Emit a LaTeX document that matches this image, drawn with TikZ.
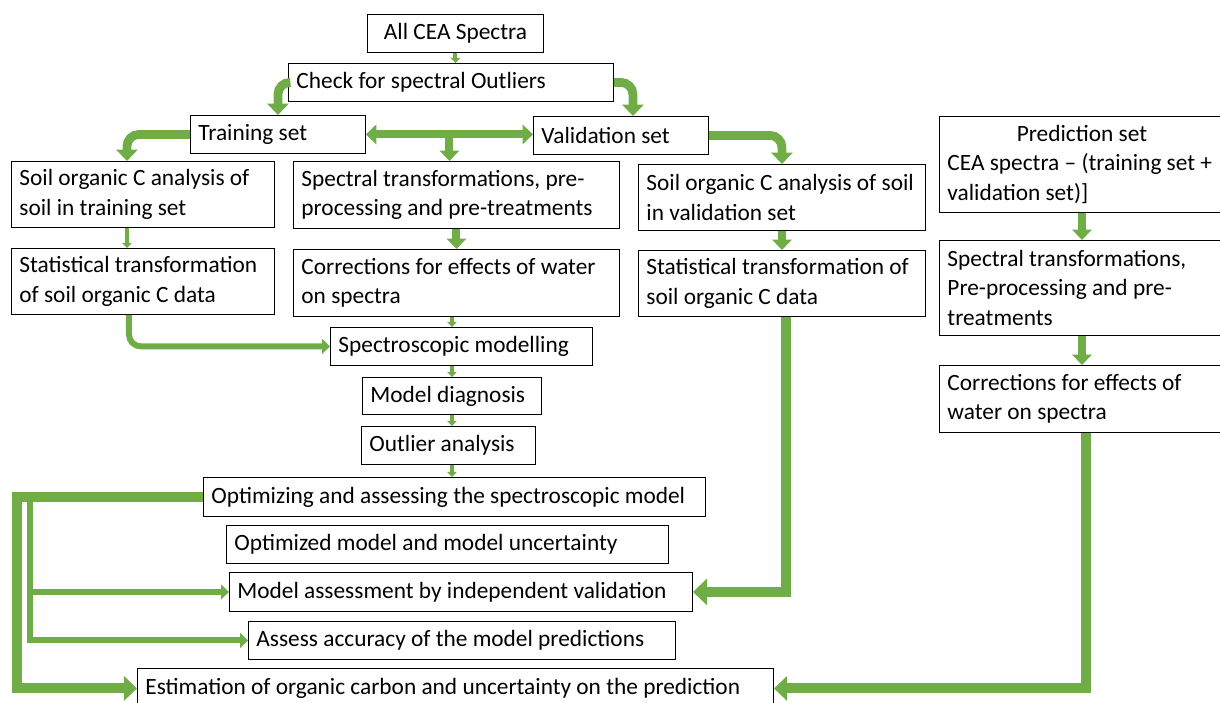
\documentclass[tikz,border=0pt]{standalone}
\usepackage{fontspec}
\setmainfont{Carlito}
\usepackage{tikz}
\usetikzlibrary{positioning, arrows.meta, calc}
\definecolor{leaf-green}{HTML}{70AD47}

\begin{document}
\begin{tikzpicture}[x=0.025cm, y=-0.025cm,
    box/.style={draw, line width=0.6pt, anchor=north west, align=flush left,
                inner xsep=0.2cm, inner ysep=0pt, text width=#1,
                font=\fontsize{16.6}{21}\selectfont},
    flow/.style={draw=leaf-green, line width=#1,
                 -{Triangle[width=0pt 2.4, length=0pt 1.3]}},
    flow/.default=0.2cm,
    twoway/.style={draw=leaf-green, line width=0.2cm,
                   {Triangle[width=0pt 2.4, length=0pt 1.3]}-{Triangle[width=0pt 2.4, length=0pt 1.3]}},
]
    \path[fill=white, use as bounding box] (0,0) rectangle (1220,702);

    % Top of the chart
    \node[box=4cm, minimum height=0.95cm, align=flush center] (allcea) at (367,14) {All CEA Spectra};
    \node[box=7.725cm, minimum height=0.95cm] (check) at (288,63) {Check for spectral Outliers};
    \node[box=3.975cm, minimum height=0.95cm] (train) at (190,115) {Training set};
    \node[box=3.975cm, minimum height=0.95cm] (valid) at (533,116) {Validation set};

    % Training branch
    \node[box=6.175cm, minimum height=1.65cm] (soilT) at (11,161)
        {Soil organic C analysis of\\soil in training set};
    \node[box=6.175cm, minimum height=1.65cm] (statT) at (11,248)
        {Statistical transformation\\of soil organic C data};

    % Spectra branch
    \node[box=7.75cm, minimum height=1.675cm] (spec) at (293,161)
        {Spectral transformations, pre-\\processing and pre-treatments};
    \node[box=7.75cm, minimum height=1.675cm] (corrM) at (293,249)
        {Corrections for effects of water\\on spectra};

    % Validation branch
    \node[box=6.775cm, minimum height=1.65cm] (soilV) at (638,164)
        {Soil organic C analysis of soil\\in validation set};
    \node[box=6.775cm, minimum height=1.65cm] (statV) at (638,250)
        {Statistical transformation of\\soil organic C data};

    % Prediction branch
    \node[box=6.725cm, minimum height=2.4cm] (pred) at (939,116)
        {\makebox[\linewidth]{Prediction set}\\CEA spectra – (training set +\\validation set)]};
    \node[box=6.725cm, minimum height=2.375cm] (specR) at (939,240)
        {Spectral transformations,\\Pre-processing and pre-\\treatments};
    \node[box=6.725cm, minimum height=1.675cm] (corrR) at (939,365)
        {Corrections for effects of\\water on spectra};

    % Modelling column
    \node[box=6.15cm, minimum height=0.95cm] (model) at (330,327) {Spectroscopic modelling};
    \node[box=4.075cm, minimum height=0.925cm] (diag) at (362,377) {Model diagnosis};
    \node[box=3.95cm, minimum height=0.95cm] (outl) at (361,426) {Outlier analysis};
    \node[box=12.15cm, minimum height=0.975cm] (optim) at (203,477)
        {Optimizing and assessing the spectroscopic model};
    \node[box=10.65cm, minimum height=0.95cm] (optmod) at (226,525)
        {Optimized model and model uncertainty};
    \node[box=11.175cm, minimum height=0.975cm] (assess) at (229,572)
        {Model assessment by independent validation};
    \node[box=10.275cm, minimum height=0.95cm] (accur) at (248,621)
        {Assess accuracy of the model predictions};
    \node[box=15.5cm, minimum height=1cm] (estim) at (137,668)
        {Estimation of organic carbon and uncertainty on the prediction};

    % Splitting the spectra
    \draw[flow=0.1cm] (allcea.south) -- (allcea.south |- check.north);
    \draw[flow=0.22cm, rounded corners=0.3cm] (check.west) -| (train.north);
    \draw[flow=0.22cm, rounded corners=0.3cm] (check.east) -| ([xshift=0.3cm]valid.north);
    \draw[twoway] (train.east) -- (train.east -| valid.west);
    \coordinate (split) at ($(train.east)!0.5!(train.east -| valid.west)$);
    \draw[flow] (split) -- (split |- spec.north);
    \draw[flow=0.22cm, rounded corners=0.3cm] (train.west) -| ([xshift=-0.4cm]soilT.north);
    \draw[flow=0.22cm, rounded corners=0.3cm] (valid.east) -| (soilV.north);

    % Down the columns
    \draw[flow=0.1cm] ([xshift=-0.4cm]soilT.south) -- ([xshift=-0.4cm]statT.north);
    \draw[flow] (spec) -- (corrM);
    \draw[flow] (soilV) -- (statV);
    \draw[flow] (pred) -- (specR);
    \draw[flow] (specR) -- (corrR);

    % Modelling
    \draw[flow=0.1cm] (diag.north |- corrM.south) -- (diag.north |- model.north);
    \draw[flow=0.15cm, rounded corners=0.3cm] ([xshift=-0.35cm]statT.south) |- (model.west);
    \draw[flow=0.1cm] (diag.north |- model.south) -- (diag.north);
    \draw[flow=0.1cm] (diag.south) -- (diag.south |- outl.north);
    \draw[flow=0.1cm] (diag.south |- outl.south) -- (diag.south |- optim.north);

    % Validation and prediction
    \draw[flow=0.27cm] ([xshift=0.1cm]statV.south) |- (assess.east);
    \draw[flow=0.25cm] ([xshift=0.1cm]corrR.south) |- (estim.east);

    % Left bracket
    \path (optim.west) ++(-186,0) coordinate (outer);
    \path (optim.west) ++(-173,0) coordinate (inner);
    \draw[flow=0.25cm] (optim.west) -- (outer) |- (estim.west);
    \draw[flow=0.15cm] (inner) |- (accur.west);
    \draw[flow=0.15cm] (inner |- assess.west) -- (assess.west);
\end{tikzpicture}
\end{document}
